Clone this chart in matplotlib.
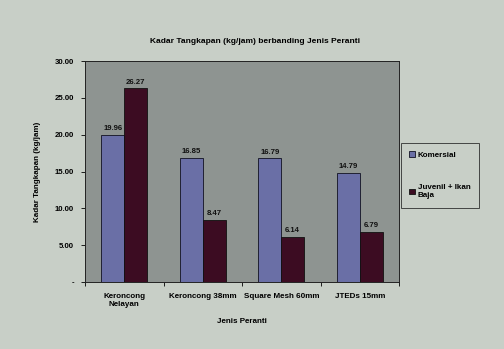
import matplotlib.pyplot as plt
import numpy as np

# data
categories = ["Keroncong\nNelayan", "Keroncong 38mm", "Square Mesh 60mm", "JTEDs 15mm"]
komersial = [19.96, 16.85, 16.79, 14.79]
juvenil = [26.27, 8.47, 6.14, 6.79]
series_names = ["Komersial", "Juvenil + Ikan\nBaja"]
y_ticks = [0, 5, 10, 15, 20, 25, 30]
y_tick_labels = ["-", "5.00", "10.00", "15.00", "20.00", "25.00", "30.00"]

plt.rcParams['font.family'] = ['Liberation Sans', 'DejaVu Sans']
plt.rcParams['font.weight'] = 'bold'

bg = "#c8cfc7"
plot_bg = "#8e9491"
c_kom = "#6a6fa6"
c_juv = "#3c0c22"

fig = plt.figure(figsize=(5.04, 3.49), dpi=100, facecolor=bg)
ax = fig.add_axes([85/504, 1 - 282/349, 314/504, 221/349])
ax.set_facecolor(plot_bg)

x = np.arange(len(categories))
w = 0.29
b1 = ax.bar(x - w/2, komersial, w, color=c_kom, edgecolor="#111122", linewidth=0.6, label=series_names[0])
b2 = ax.bar(x + w/2, juvenil, w, color=c_juv, edgecolor="#111111", linewidth=0.6, label=series_names[1])

# value labels above bars
for bars, vals in [(b1, komersial), (b2, juvenil)]:
    for r, v in zip(bars, vals):
        ax.text(r.get_x() + r.get_width()/2, v + 0.35, f"{v:.2f}", ha='center', va='bottom',
                fontsize=5.6, fontweight='bold', color="#111111")

ax.set_xlim(-0.5, len(categories) - 0.5)
ax.set_ylim(0, 30)
ax.set_yticks(y_ticks)
ax.set_yticklabels(y_tick_labels, fontsize=5.6, fontweight='bold')
ax.set_xticks(np.arange(len(categories) + 1) - 0.5)
ax.set_xticklabels([])
ax.set_xticks(x, minor=True)
ax.set_xticklabels(categories, minor=True, fontsize=5.8, fontweight='bold')
ax.tick_params(axis='x', which='minor', length=0, pad=8)
ax.tick_params(axis='x', which='major', length=3, width=0.6)
ax.tick_params(axis='y', length=3, width=0.6, pad=5)

for s in ax.spines.values():
    s.set_linewidth(0.7)
    s.set_color("#222222")

ax.set_ylabel("Kadar Tangkapan (kg/jam)", fontsize=5.8, fontweight='bold', labelpad=10)
ax.set_xlabel("Jenis Peranti", fontsize=5.8, fontweight='bold', labelpad=7)
ax.set_title("Kadar Tangkapan (kg/jam) berbanding Jenis Peranti",
             fontsize=6, fontweight='bold', pad=13, x=0.54)

leg = ax.legend(loc='upper left', bbox_to_anchor=((401 - 85)/314, 1 - (143 - 61)/221),
                fontsize=5.8, frameon=True, fancybox=False, edgecolor="#222222",
                facecolor=bg, handlelength=0.7, handleheight=0.7, handletextpad=0.4,
                labelspacing=3.2, borderpad=1.0, borderaxespad=0)
leg.get_frame().set_linewidth(0.7)

fig.savefig("out.png", dpi=100, facecolor=bg)
